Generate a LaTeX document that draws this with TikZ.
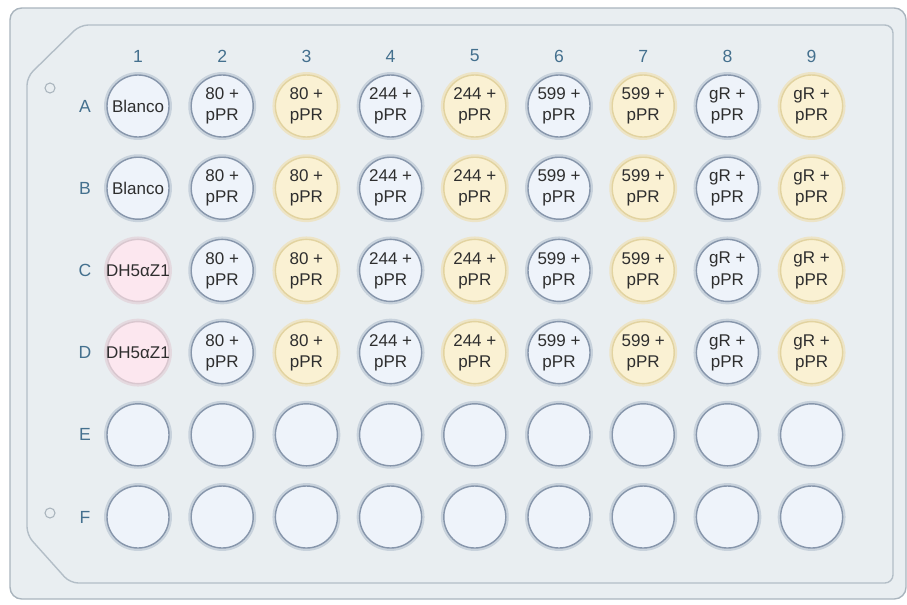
\documentclass[tikz,border=0pt]{standalone}
\usepackage{fontspec}
\setmainfont{Liberation Sans}
\usepackage{tikz}
\usetikzlibrary{positioning}
\definecolor{plfill}{HTML}{E9EEF1}
\definecolor{pledge}{HTML}{A9B4BD}
\definecolor{plinner}{HTML}{B3BEC7}
\definecolor{lblblue}{HTML}{44708E}
\definecolor{txtdark}{HTML}{2E2E2E}
\definecolor{wbfill}{HTML}{EEF3FA}
\definecolor{wbrim}{HTML}{8796AB}
\definecolor{wbhalo}{HTML}{C8D2DC}
\definecolor{wyfill}{HTML}{FAF1D3}
\definecolor{wyrim}{HTML}{E2D3A0}
\definecolor{wyhalo}{HTML}{EDE4C6}
\definecolor{wpfill}{HTML}{FCE7EF}
\definecolor{wprim}{HTML}{D9C7CF}
\definecolor{wphalo}{HTML}{E4D9DF}

\begin{document}
\begin{tikzpicture}[
  x=0.03cm, y=-0.03cm,
  font=\fontsize{14.5}{18}\selectfont,
  plate/.style={draw=pledge,fill=plfill,line width=1.2pt},
  deck/.style={draw=plinner,line width=1.2pt,rounded corners=7pt},
  hole/.style={circle,draw=pledge,line width=0.9pt,minimum size=0.3cm,inner sep=0pt},
  collbl/.style={text=lblblue,font=\fontsize{15}{18}\selectfont},
  rowlbl/.style={collbl},
  well/.style={circle,minimum size=1.86cm,inner sep=0pt,align=center,
               text=txtdark,line width=1.2pt},
  wb/.style={well,fill=wbfill,draw=wbrim,preaction={draw=wbhalo,line width=5pt}},
  wy/.style={well,fill=wyfill,draw=wyrim,preaction={draw=wyhalo,line width=5pt}},
  wp/.style={well,fill=wpfill,draw=wprim,preaction={draw=wphalo,line width=5pt}}]

  \useasboundingbox (0,0) rectangle (907,604);

  % plate body and deck
  \draw[plate,rounded corners=10pt] (10,8) rectangle (906,599);
  \draw[deck] (27,77) -- (80,25) -- (893,25) -- (893,583) -- (70,583) -- (27,535) -- cycle;

  \node[hole] (holeA) at (50,88) {};
  \node[hole] (holeF) at (50,513) {};

  % column and row labels
  \foreach \c in {1,...,9}
    \node[collbl] (col\c) at (138+84.2*\c-84.2,56) {\c};
  \foreach \r [count=\i from 0] in {A,B,C,D,E,F}
    \node[rowlbl] (row\r) at (85,106+82.2*\i) {\r};

  % filled wells
  \foreach \r/\i/\first/\sty in {A/0/Blanco/wb,B/1/Blanco/wb,C/2/DH5αZ1/wp,D/3/DH5αZ1/wp} {
    \node[\sty] (\r1) at (138,106+82.2*\i) {\makebox[40pt]{\first}};
    \foreach \c/\lab/\s in {2/80/wb,3/80/wy,4/244/wb,5/244/wy,6/599/wb,7/599/wy,8/gR/wb,9/gR/wy}
      \node[\s] (\r\c) at (138+84.2*\c-84.2,106+82.2*\i) {\lab\ +\\pPR};
  }

  % empty wells
  \foreach \r/\i in {E/4,F/5}
    \foreach \c in {1,...,9}
      \node[wb] (\r\c) at (138+84.2*\c-84.2,106+82.2*\i) {};
\end{tikzpicture}
\end{document}
